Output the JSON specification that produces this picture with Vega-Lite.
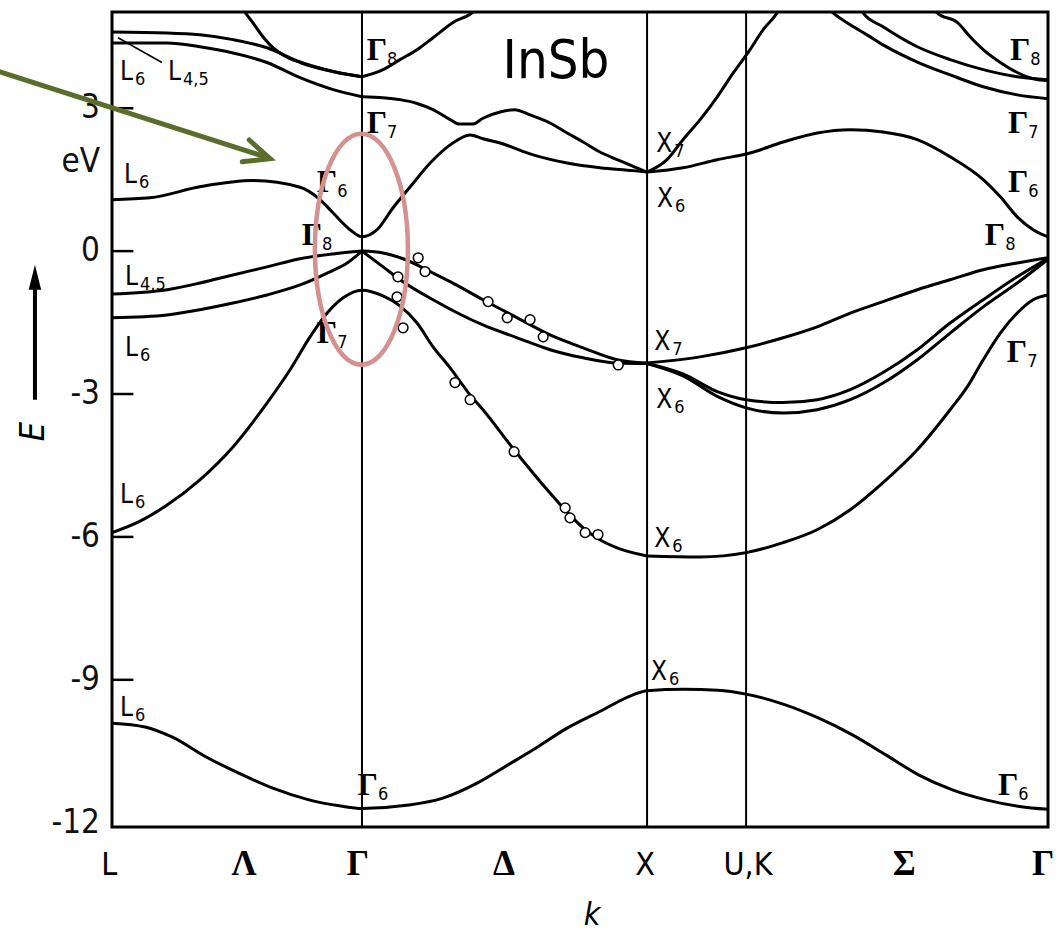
{
  "$schema": "https://vega.github.io/schema/vega-lite/v6.json",
  "width": 936,
  "height": 815,
  "autosize": {"type": "none"},
  "padding": {"left": 112, "top": 12, "right": 12, "bottom": 105},
  "background": "white",
  "config": {"view": {"stroke": "black", "strokeWidth": 3}},
  "datasets": {
    "symmetryLines": [{"k": 0.876, "point": "Γ"}, {"k": 1.875, "point": "X"}, {"k": 2.222, "point": "U,K"}],
    "energyTicks": [
      {"E": 3, "k": 0, "k2": 0.075}, {"E": 0, "k": 0, "k2": 0.075}, {"E": -3, "k": 0, "k2": 0.075},
      {"E": -6, "k": 0, "k2": 0.075}, {"E": -9, "k": 0, "k2": 0.075}
    ],
    "energyTickLabels": [
      {"E": 3, "k": -0.042, "label": "3"}, {"E": 0, "k": -0.042, "label": "0"}, {"E": -3, "k": -0.042, "label": "-3"},
      {"E": -6, "k": -0.042, "label": "-6"}, {"E": -9, "k": -0.042, "label": "-9"}, {"E": -12, "k": -0.042, "label": "-12"}
    ],
    "bands": [
      {"band": "c1", "k": 0, "E": 4.60}, {"band": "c1", "k": 0.193, "E": 4.58}, {"band": "c1", "k": 0.308, "E": 4.54}, {"band": "c1", "k": 0.424, "E": 4.44}, {"band": "c1", "k": 0.543, "E": 4.27}, {"band": "c1", "k": 0.659, "E": 3.97}, {"band": "c1", "k": 0.775, "E": 3.77}, {"band": "c1", "k": 0.876, "E": 3.66},
      {"band": "c2", "k": 0, "E": 4.37}, {"band": "c2", "k": 0.193, "E": 4.37}, {"band": "c2", "k": 0.308, "E": 4.29}, {"band": "c2", "k": 0.424, "E": 4.16}, {"band": "c2", "k": 0.543, "E": 3.96}, {"band": "c2", "k": 0.659, "E": 3.64}, {"band": "c2", "k": 0.775, "E": 3.39}, {"band": "c2", "k": 0.876, "E": 3.24},
      {"band": "c3", "k": 0.455, "E": 5.10}, {"band": "c3", "k": 0.494, "E": 4.79}, {"band": "c3", "k": 0.529, "E": 4.50}, {"band": "c3", "k": 0.564, "E": 4.27}, {"band": "c3", "k": 0.599, "E": 4.12}, {"band": "c3", "k": 0.659, "E": 3.96}, {"band": "c3", "k": 0.775, "E": 3.77}, {"band": "c3", "k": 0.876, "E": 3.66},
      {"band": "c4", "k": 0.876, "E": 3.66}, {"band": "c4", "k": 0.950, "E": 3.81}, {"band": "c4", "k": 1.009, "E": 4.02}, {"band": "c4", "k": 1.069, "E": 4.23}, {"band": "c4", "k": 1.125, "E": 4.48}, {"band": "c4", "k": 1.195, "E": 4.80}, {"band": "c4", "k": 1.265, "E": 5.02}, {"band": "c4", "k": 1.29, "E": 5.17},
      {"band": "c5", "k": 0.876, "E": 3.24}, {"band": "c5", "k": 0.950, "E": 3.22}, {"band": "c5", "k": 1.009, "E": 3.18}, {"band": "c5", "k": 1.069, "E": 3.10}, {"band": "c5", "k": 1.125, "E": 2.97}, {"band": "c5", "k": 1.185, "E": 2.76}, {"band": "c5", "k": 1.215, "E": 2.67}, {"band": "c5", "k": 1.265, "E": 2.67}, {"band": "c5", "k": 1.300, "E": 2.79}, {"band": "c5", "k": 1.360, "E": 2.92}, {"band": "c5", "k": 1.410, "E": 2.97}, {"band": "c5", "k": 1.465, "E": 2.86}, {"band": "c5", "k": 1.535, "E": 2.69}, {"band": "c5", "k": 1.595, "E": 2.48}, {"band": "c5", "k": 1.651, "E": 2.29}, {"band": "c5", "k": 1.710, "E": 2.08}, {"band": "c5", "k": 1.770, "E": 1.92}, {"band": "c5", "k": 1.826, "E": 1.78}, {"band": "c5", "k": 1.875, "E": 1.66},
      {"band": "c6", "k": 0, "E": 1.08}, {"band": "c6", "k": 0.133, "E": 1.12}, {"band": "c6", "k": 0.308, "E": 1.35}, {"band": "c6", "k": 0.494, "E": 1.48}, {"band": "c6", "k": 0.659, "E": 1.34}, {"band": "c6", "k": 0.729, "E": 1.08}, {"band": "c6", "k": 0.775, "E": 0.80}, {"band": "c6", "k": 0.834, "E": 0.45}, {"band": "c6", "k": 0.876, "E": 0.30}, {"band": "c6", "k": 0.929, "E": 0.45}, {"band": "c6", "k": 0.985, "E": 0.91}, {"band": "c6", "k": 1.045, "E": 1.35}, {"band": "c6", "k": 1.115, "E": 1.85}, {"band": "c6", "k": 1.185, "E": 2.23}, {"band": "c6", "k": 1.255, "E": 2.44}, {"band": "c6", "k": 1.300, "E": 2.36}, {"band": "c6", "k": 1.360, "E": 2.27}, {"band": "c6", "k": 1.476, "E": 2.02}, {"band": "c6", "k": 1.595, "E": 1.85}, {"band": "c6", "k": 1.710, "E": 1.75}, {"band": "c6", "k": 1.826, "E": 1.69}, {"band": "c6", "k": 1.875, "E": 1.66},
      {"band": "c7", "k": 1.875, "E": 1.66}, {"band": "c7", "k": 1.945, "E": 1.92}, {"band": "c7", "k": 2.001, "E": 2.34}, {"band": "c7", "k": 2.061, "E": 2.76}, {"band": "c7", "k": 2.121, "E": 3.24}, {"band": "c7", "k": 2.177, "E": 3.74}, {"band": "c7", "k": 2.236, "E": 4.23}, {"band": "c7", "k": 2.282, "E": 4.65}, {"band": "c7", "k": 2.331, "E": 5.00}, {"band": "c7", "k": 2.359, "E": 5.28},
      {"band": "c8", "k": 1.875, "E": 1.66}, {"band": "c8", "k": 2.001, "E": 1.75}, {"band": "c8", "k": 2.121, "E": 1.92}, {"band": "c8", "k": 2.236, "E": 2.06}, {"band": "c8", "k": 2.352, "E": 2.29}, {"band": "c8", "k": 2.471, "E": 2.48}, {"band": "c8", "k": 2.587, "E": 2.55}, {"band": "c8", "k": 2.702, "E": 2.50}, {"band": "c8", "k": 2.822, "E": 2.34}, {"band": "c8", "k": 2.937, "E": 1.98}, {"band": "c8", "k": 3.053, "E": 1.50}, {"band": "c8", "k": 3.113, "E": 1.14}, {"band": "c8", "k": 3.172, "E": 0.72}, {"band": "c8", "k": 3.228, "E": 0.45}, {"band": "c8", "k": 3.28, "E": 0.30},
      {"band": "c9", "k": 2.48, "E": 5.28}, {"band": "c9", "k": 2.527, "E": 5.00}, {"band": "c9", "k": 2.587, "E": 4.75}, {"band": "c9", "k": 2.646, "E": 4.54}, {"band": "c9", "k": 2.702, "E": 4.33}, {"band": "c9", "k": 2.822, "E": 3.97}, {"band": "c9", "k": 2.937, "E": 3.70}, {"band": "c9", "k": 3.053, "E": 3.45}, {"band": "c9", "k": 3.172, "E": 3.28}, {"band": "c9", "k": 3.28, "E": 3.20},
      {"band": "c10", "k": 2.604, "E": 5.28}, {"band": "c10", "k": 2.632, "E": 5.00}, {"band": "c10", "k": 2.702, "E": 4.71}, {"band": "c10", "k": 2.822, "E": 4.29}, {"band": "c10", "k": 2.937, "E": 4.02}, {"band": "c10", "k": 3.053, "E": 3.81}, {"band": "c10", "k": 3.172, "E": 3.66}, {"band": "c10", "k": 3.28, "E": 3.60},
      {"band": "c11", "k": 2.867, "E": 5.28}, {"band": "c11", "k": 2.892, "E": 5.00}, {"band": "c11", "k": 2.962, "E": 4.80}, {"band": "c11", "k": 3.007, "E": 4.50}, {"band": "c11", "k": 3.053, "E": 4.23}, {"band": "c11", "k": 3.113, "E": 3.96}, {"band": "c11", "k": 3.172, "E": 3.75}, {"band": "c11", "k": 3.228, "E": 3.62}, {"band": "c11", "k": 3.28, "E": 3.58},
      {"band": "v1", "k": 0, "E": -0.90}, {"band": "v1", "k": 0.193, "E": -0.81}, {"band": "v1", "k": 0.308, "E": -0.67}, {"band": "v1", "k": 0.424, "E": -0.50}, {"band": "v1", "k": 0.543, "E": -0.33}, {"band": "v1", "k": 0.659, "E": -0.16}, {"band": "v1", "k": 0.775, "E": -0.06}, {"band": "v1", "k": 0.876, "E": 0},
      {"band": "v2", "k": 0, "E": -1.40}, {"band": "v2", "k": 0.193, "E": -1.34}, {"band": "v2", "k": 0.308, "E": -1.23}, {"band": "v2", "k": 0.424, "E": -1.09}, {"band": "v2", "k": 0.543, "E": -0.92}, {"band": "v2", "k": 0.659, "E": -0.71}, {"band": "v2", "k": 0.754, "E": -0.46}, {"band": "v2", "k": 0.824, "E": -0.25}, {"band": "v2", "k": 0.876, "E": 0},
      {"band": "so", "k": 0, "E": -5.91}, {"band": "so", "k": 0.095, "E": -5.68}, {"band": "so", "k": 0.193, "E": -5.33}, {"band": "so", "k": 0.308, "E": -4.80}, {"band": "so", "k": 0.424, "E": -4.11}, {"band": "so", "k": 0.543, "E": -3.19}, {"band": "so", "k": 0.624, "E": -2.49}, {"band": "so", "k": 0.694, "E": -1.80}, {"band": "so", "k": 0.754, "E": -1.30}, {"band": "so", "k": 0.810, "E": -0.98}, {"band": "so", "k": 0.876, "E": -0.82}, {"band": "so", "k": 0.950, "E": -0.94}, {"band": "so", "k": 1.009, "E": -1.15}, {"band": "so", "k": 1.069, "E": -1.51}, {"band": "so", "k": 1.125, "E": -2.01}, {"band": "so", "k": 1.185, "E": -2.45}, {"band": "so", "k": 1.255, "E": -3.02}, {"band": "so", "k": 1.300, "E": -3.33}, {"band": "so", "k": 1.409, "E": -4.17}, {"band": "so", "k": 1.535, "E": -5.08}, {"band": "so", "k": 1.595, "E": -5.48}, {"band": "so", "k": 1.651, "E": -5.81}, {"band": "so", "k": 1.710, "E": -6.06}, {"band": "so", "k": 1.770, "E": -6.23}, {"band": "so", "k": 1.875, "E": -6.40},
      {"band": "v4", "k": 0.876, "E": 0}, {"band": "v4", "k": 0.950, "E": -0.04}, {"band": "v4", "k": 1.020, "E": -0.16}, {"band": "v4", "k": 1.125, "E": -0.46}, {"band": "v4", "k": 1.185, "E": -0.64}, {"band": "v4", "k": 1.300, "E": -1.02}, {"band": "v4", "k": 1.420, "E": -1.40}, {"band": "v4", "k": 1.535, "E": -1.76}, {"band": "v4", "k": 1.651, "E": -2.03}, {"band": "v4", "k": 1.770, "E": -2.28}, {"band": "v4", "k": 1.875, "E": -2.35},
      {"band": "v5", "k": 0.876, "E": 0}, {"band": "v5", "k": 0.950, "E": -0.33}, {"band": "v5", "k": 1.009, "E": -0.60}, {"band": "v5", "k": 1.125, "E": -1.02}, {"band": "v5", "k": 1.300, "E": -1.55}, {"band": "v5", "k": 1.420, "E": -1.82}, {"band": "v5", "k": 1.535, "E": -2.07}, {"band": "v5", "k": 1.651, "E": -2.24}, {"band": "v5", "k": 1.770, "E": -2.35}, {"band": "v5", "k": 1.875, "E": -2.36},
      {"band": "v7", "k": 1.875, "E": -6.40}, {"band": "v7", "k": 2.061, "E": -6.42}, {"band": "v7", "k": 2.222, "E": -6.33}, {"band": "v7", "k": 2.352, "E": -6.12}, {"band": "v7", "k": 2.471, "E": -5.85}, {"band": "v7", "k": 2.587, "E": -5.43}, {"band": "v7", "k": 2.702, "E": -4.86}, {"band": "v7", "k": 2.822, "E": -4.17}, {"band": "v7", "k": 2.937, "E": -3.33}, {"band": "v7", "k": 2.997, "E": -2.85}, {"band": "v7", "k": 3.053, "E": -2.28}, {"band": "v7", "k": 3.113, "E": -1.72}, {"band": "v7", "k": 3.172, "E": -1.30}, {"band": "v7", "k": 3.228, "E": -1.02}, {"band": "v7", "k": 3.28, "E": -0.92},
      {"band": "v8", "k": 1.875, "E": -2.35}, {"band": "v8", "k": 2.061, "E": -2.22}, {"band": "v8", "k": 2.222, "E": -2.03}, {"band": "v8", "k": 2.352, "E": -1.82}, {"band": "v8", "k": 2.471, "E": -1.59}, {"band": "v8", "k": 2.587, "E": -1.30}, {"band": "v8", "k": 2.702, "E": -1.06}, {"band": "v8", "k": 2.822, "E": -0.81}, {"band": "v8", "k": 2.937, "E": -0.60}, {"band": "v8", "k": 3.053, "E": -0.39}, {"band": "v8", "k": 3.172, "E": -0.25}, {"band": "v8", "k": 3.28, "E": -0.14},
      {"band": "v9", "k": 1.875, "E": -2.36}, {"band": "v9", "k": 2.001, "E": -2.58}, {"band": "v9", "k": 2.121, "E": -2.95}, {"band": "v9", "k": 2.222, "E": -3.12}, {"band": "v9", "k": 2.352, "E": -3.18}, {"band": "v9", "k": 2.471, "E": -3.12}, {"band": "v9", "k": 2.587, "E": -2.91}, {"band": "v9", "k": 2.702, "E": -2.55}, {"band": "v9", "k": 2.822, "E": -2.07}, {"band": "v9", "k": 2.937, "E": -1.51}, {"band": "v9", "k": 3.053, "E": -1.02}, {"band": "v9", "k": 3.172, "E": -0.54}, {"band": "v9", "k": 3.28, "E": -0.15},
      {"band": "v10", "k": 1.875, "E": -2.36}, {"band": "v10", "k": 2.001, "E": -2.62}, {"band": "v10", "k": 2.121, "E": -3.05}, {"band": "v10", "k": 2.222, "E": -3.29}, {"band": "v10", "k": 2.352, "E": -3.40}, {"band": "v10", "k": 2.471, "E": -3.33}, {"band": "v10", "k": 2.587, "E": -3.12}, {"band": "v10", "k": 2.702, "E": -2.77}, {"band": "v10", "k": 2.822, "E": -2.28}, {"band": "v10", "k": 2.937, "E": -1.72}, {"band": "v10", "k": 3.053, "E": -1.17}, {"band": "v10", "k": 3.172, "E": -0.67}, {"band": "v10", "k": 3.28, "E": -0.17},
      {"band": "v11", "k": 0, "E": -9.91}, {"band": "v11", "k": 0.116, "E": -9.99}, {"band": "v11", "k": 0.21, "E": -10.20}, {"band": "v11", "k": 0.33, "E": -10.62}, {"band": "v11", "k": 0.448, "E": -10.97}, {"band": "v11", "k": 0.566, "E": -11.28}, {"band": "v11", "k": 0.684, "E": -11.51}, {"band": "v11", "k": 0.802, "E": -11.65}, {"band": "v11", "k": 0.876, "E": -11.70}, {"band": "v11", "k": 1.04, "E": -11.63}, {"band": "v11", "k": 1.157, "E": -11.49}, {"band": "v11", "k": 1.276, "E": -11.18}, {"band": "v11", "k": 1.395, "E": -10.76}, {"band": "v11", "k": 1.476, "E": -10.47}, {"band": "v11", "k": 1.593, "E": -10.02}, {"band": "v11", "k": 1.711, "E": -9.66}, {"band": "v11", "k": 1.828, "E": -9.31}, {"band": "v11", "k": 1.875, "E": -9.23}, {"band": "v11", "k": 2.005, "E": -9.20}, {"band": "v11", "k": 2.122, "E": -9.22}, {"band": "v11", "k": 2.222, "E": -9.30}, {"band": "v11", "k": 2.357, "E": -9.52}, {"band": "v11", "k": 2.475, "E": -9.80}, {"band": "v11", "k": 2.593, "E": -10.15}, {"band": "v11", "k": 2.710, "E": -10.57}, {"band": "v11", "k": 2.828, "E": -11.0}, {"band": "v11", "k": 2.945, "E": -11.31}, {"band": "v11", "k": 3.063, "E": -11.52}, {"band": "v11", "k": 3.181, "E": -11.66}, {"band": "v11", "k": 3.28, "E": -11.72}
    ],
    "measured": [
      {"k": 1.073, "E": -0.14}, {"k": 1.097, "E": -0.43}, {"k": 1.002, "E": -0.54}, {"k": 0.999, "E": -0.96}, {"k": 1.020, "E": -1.61},
      {"k": 1.318, "E": -1.06}, {"k": 1.385, "E": -1.40}, {"k": 1.465, "E": -1.44}, {"k": 1.511, "E": -1.80}, {"k": 1.774, "E": -2.39},
      {"k": 1.202, "E": -2.76}, {"k": 1.255, "E": -3.12}, {"k": 1.409, "E": -4.21}, {"k": 1.588, "E": -5.39}, {"k": 1.605, "E": -5.60},
      {"k": 1.658, "E": -5.91}, {"k": 1.703, "E": -5.95}
    ],
    "gammaLabels": [
      {"k": 0.964, "E": 4.02, "sub": "8"}, {"k": 0.964, "E": 2.48, "sub": "7"}, {"k": 0.789, "E": 1.25, "sub": "6"},
      {"k": 0.736, "E": 0.13, "sub": "8"}, {"k": 0.789, "E": -1.93, "sub": "7"}, {"k": 0.932, "E": -11.42, "sub": "6"},
      {"k": 3.218, "E": 4.02, "sub": "8"}, {"k": 3.211, "E": 2.48, "sub": "7"}, {"k": 3.211, "E": 1.25, "sub": "6"},
      {"k": 3.130, "E": 0.13, "sub": "8"}, {"k": 3.207, "E": -2.32, "sub": "7"}, {"k": 3.176, "E": -11.42, "sub": "6"}
    ],
    "latinLabels": [
      {"k": 0.074, "E": 3.60, "base": "L", "sub": "6"}, {"k": 0.242, "E": 3.60, "base": "L", "sub": "4,5"},
      {"k": 0.088, "E": 1.43, "base": "L", "sub": "6"}, {"k": 0.091, "E": -0.71, "base": "L", "sub": "4,5"},
      {"k": 0.091, "E": -2.20, "base": "L", "sub": "6"}, {"k": 0.074, "E": -5.28, "base": "L", "sub": "6"},
      {"k": 0.074, "E": -9.76, "base": "L", "sub": "6"},
      {"k": 1.963, "E": 2.08, "base": "X", "sub": "7"}, {"k": 1.966, "E": 0.93, "base": "X", "sub": "6"},
      {"k": 1.956, "E": -2.07, "base": "X", "sub": "7"}, {"k": 1.963, "E": -3.29, "base": "X", "sub": "6"},
      {"k": 1.956, "E": -6.21, "base": "X", "sub": "6"}, {"k": 1.945, "E": -9.00, "base": "X", "sub": "6"}
    ],
    "pointNames": [
      {"k": -0.01, "E": -13.09, "label": "L"}, {"k": 1.868, "E": -13.09, "label": "X"}, {"k": 2.229, "E": -13.09, "label": "U,K"}
    ],
    "lineNames": [
      {"k": 0.463, "E": -13.09, "label": "Λ"}, {"k": 0.862, "E": -13.09, "label": "Γ"}, {"k": 1.374, "E": -13.09, "label": "Δ"},
      {"k": 2.776, "E": -13.09, "label": "Σ"}, {"k": 3.263, "E": -13.09, "label": "Γ"}
    ]
  },
  "layer": [
    {
      "data": {"name": "symmetryLines"},
      "mark": {"type": "rule", "color": "black", "strokeWidth": 2},
      "encoding": {
        "x": {"field": "k", "type": "quantitative", "scale": {"domain": [0, 3.28], "nice": false, "zero": false}, "axis": null}
      }
    },
    {
      "data": {"name": "bands"},
      "mark": {"type": "line", "interpolate": "monotone", "color": "black", "strokeWidth": 3, "clip": true},
      "encoding": {
        "x": {"field": "k", "type": "quantitative", "scale": {"domain": [0, 3.28], "nice": false, "zero": false}, "axis": null},
        "y": {"field": "E", "type": "quantitative", "scale": {"domain": [-12.09, 5.02], "nice": false, "zero": false}, "axis": null},
        "detail": {"field": "band"}
      }
    },
    {
      "data": {"name": "energyTicks"},
      "mark": {"type": "rule", "color": "black", "strokeWidth": 2.5},
      "encoding": {
        "x": {"field": "k", "type": "quantitative", "axis": null},
        "y": {"field": "E", "type": "quantitative", "axis": null},
        "x2": {"field": "k2"},
        "y2": {"field": "E"}
      }
    },
    {
      "data": {"name": "energyTickLabels"},
      "mark": {"type": "text", "align": "right", "baseline": "middle", "font": "DejaVu Sans Condensed, DejaVu Sans", "fontSize": 33, "color": "#111"},
      "encoding": {
        "x": {"field": "k", "type": "quantitative", "axis": null},
        "y": {"field": "E", "type": "quantitative", "axis": null},
        "text": {"field": "label"}
      }
    },
    {
      "data": {"name": "measured"},
      "mark": {"type": "point", "shape": "circle", "filled": true, "fill": "white", "stroke": "black", "strokeWidth": 1.5, "size": 95, "opacity": 1},
      "encoding": {
        "x": {"field": "k", "type": "quantitative", "axis": null},
        "y": {"field": "E", "type": "quantitative", "axis": null}
      }
    },
    {
      "data": {"values": [{"k": 0.021, "E": 4.48, "k2": 0.175, "E2": 3.96}]},
      "mark": {"type": "rule", "color": "black", "strokeWidth": 1.5},
      "encoding": {
        "x": {"field": "k", "type": "quantitative", "axis": null},
        "y": {"field": "E", "type": "quantitative", "axis": null},
        "x2": {"field": "k2"}, "y2": {"field": "E2"}
      }
    },
    {
      "data": {"name": "gammaLabels"},
      "mark": {"type": "text", "align": "right", "baseline": "alphabetic", "font": "Liberation Serif, DejaVu Serif", "fontWeight": "bold", "fontSize": 32, "color": "black"},
      "encoding": {
        "x": {"field": "k", "type": "quantitative", "axis": null},
        "y": {"field": "E", "type": "quantitative", "axis": null},
        "text": {"value": "Γ"}
      }
    },
    {
      "data": {"name": "gammaLabels"},
      "mark": {"type": "text", "align": "left", "baseline": "alphabetic", "dy": 5, "font": "DejaVu Sans Condensed, DejaVu Sans", "fontSize": 18, "color": "black"},
      "encoding": {
        "x": {"field": "k", "type": "quantitative", "axis": null},
        "y": {"field": "E", "type": "quantitative", "axis": null},
        "text": {"field": "sub"}
      }
    },
    {
      "data": {"name": "latinLabels"},
      "mark": {"type": "text", "align": "right", "baseline": "alphabetic", "font": "DejaVu Sans Condensed, DejaVu Sans", "fontSize": 26, "color": "black"},
      "encoding": {
        "x": {"field": "k", "type": "quantitative", "axis": null},
        "y": {"field": "E", "type": "quantitative", "axis": null},
        "text": {"field": "base"}
      }
    },
    {
      "data": {"name": "latinLabels"},
      "mark": {"type": "text", "align": "left", "baseline": "alphabetic", "dx": 2, "dy": 5, "font": "DejaVu Sans Condensed, DejaVu Sans", "fontSize": 18, "color": "black"},
      "encoding": {
        "x": {"field": "k", "type": "quantitative", "axis": null},
        "y": {"field": "E", "type": "quantitative", "axis": null},
        "text": {"field": "sub"}
      }
    },
    {
      "data": {"values": [{"k": 1.556, "E": 3.64, "text": "InSb"}]},
      "mark": {"type": "text", "align": "center", "baseline": "alphabetic", "font": "DejaVu Sans Condensed, DejaVu Sans", "fontSize": 54, "color": "black"},
      "encoding": {
        "x": {"field": "k", "type": "quantitative", "axis": null},
        "y": {"field": "E", "type": "quantitative", "axis": null},
        "text": {"field": "text"}
      }
    },
    {
      "data": {"name": "pointNames"},
      "mark": {"type": "text", "align": "center", "baseline": "alphabetic", "font": "DejaVu Sans Condensed, DejaVu Sans", "fontSize": 32, "color": "black"},
      "encoding": {
        "x": {"field": "k", "type": "quantitative", "axis": null},
        "y": {"field": "E", "type": "quantitative", "axis": null},
        "text": {"field": "label"}
      }
    },
    {
      "data": {"name": "lineNames"},
      "mark": {"type": "text", "align": "center", "baseline": "alphabetic", "font": "Liberation Serif, DejaVu Serif", "fontWeight": "bold", "fontSize": 35, "color": "black"},
      "encoding": {
        "x": {"field": "k", "type": "quantitative", "axis": null},
        "y": {"field": "E", "type": "quantitative", "axis": null},
        "text": {"field": "label"}
      }
    },
    {
      "data": {"values": [{"k": -0.042, "E": 1.66, "text": "eV"}]},
      "mark": {"type": "text", "align": "right", "baseline": "alphabetic", "font": "DejaVu Sans Condensed, DejaVu Sans", "fontSize": 33, "color": "#111"},
      "encoding": {
        "x": {"field": "k", "type": "quantitative", "axis": null},
        "y": {"field": "E", "type": "quantitative", "axis": null},
        "text": {"field": "text"}
      }
    },
    {
      "data": {"values": [{"k": 1.682, "E": -14.15, "text": "k"}]},
      "mark": {"type": "text", "align": "center", "baseline": "alphabetic", "font": "DejaVu Sans Condensed, DejaVu Sans", "fontStyle": "italic", "fontSize": 32, "color": "black"},
      "encoding": {
        "x": {"field": "k", "type": "quantitative", "axis": null},
        "y": {"field": "E", "type": "quantitative", "axis": null},
        "text": {"field": "text"}
      }
    },
    {
      "data": {"values": [{"k": -0.273, "E": -3.79, "text": "E"}]},
      "mark": {"type": "text", "align": "center", "baseline": "middle", "angle": 270, "font": "DejaVu Sans Condensed, DejaVu Sans", "fontStyle": "italic", "fontSize": 34, "color": "black"},
      "encoding": {
        "x": {"field": "k", "type": "quantitative", "axis": null},
        "y": {"field": "E", "type": "quantitative", "axis": null},
        "text": {"field": "text"}
      }
    },
    {
      "data": {"values": [{"k": -0.27, "E": -3.12, "k2": -0.27, "E2": -0.71}]},
      "mark": {"type": "rule", "color": "black", "strokeWidth": 4},
      "encoding": {
        "x": {"field": "k", "type": "quantitative", "axis": null},
        "y": {"field": "E", "type": "quantitative", "axis": null},
        "x2": {"field": "k2"}, "y2": {"field": "E2"}
      }
    },
    {
      "data": {"values": [{"k": -0.27, "E": -0.55}]},
      "mark": {"type": "point", "shape": "M 0 -1 L 0.5 1 L -0.5 1 Z", "size": 625, "filled": true, "color": "black", "opacity": 1},
      "encoding": {
        "x": {"field": "k", "type": "quantitative", "axis": null},
        "y": {"field": "E", "type": "quantitative", "axis": null}
      }
    },
    {
      "data": {"values": [{"k": 0.874, "E": 0.04}]},
      "mark": {"type": "point", "shape": "M -0.4026 0 A 0.4026 1 0 1 1 0.4026 0 A 0.4026 1 0 1 1 -0.4026 0 Z", "size": 53361, "filled": false, "stroke": "#d4918f", "strokeWidth": 4.5, "opacity": 1},
      "encoding": {
        "x": {"field": "k", "type": "quantitative", "axis": null},
        "y": {"field": "E", "type": "quantitative", "axis": null}
      }
    },
    {
      "data": {"values": [{"k": -0.40, "E": 3.78, "k2": 0.548, "E2": 1.96}]},
      "mark": {"type": "rule", "color": "#5a6e2c", "strokeWidth": 5},
      "encoding": {
        "x": {"field": "k", "type": "quantitative", "axis": null},
        "y": {"field": "E", "type": "quantitative", "axis": null},
        "x2": {"field": "k2"}, "y2": {"field": "E2"}
      }
    },
    {
      "data": {"values": [{"k": 0.554, "E": 1.94}]},
      "mark": {"type": "point", "shape": "M -0.914 -0.407 L 0 0 L -0.914 0.407", "size": 3136, "filled": false, "stroke": "#5a6e2c", "strokeWidth": 5, "strokeJoin": "miter", "strokeCap": "round", "angle": 17.9, "opacity": 1},
      "encoding": {
        "x": {"field": "k", "type": "quantitative", "axis": null},
        "y": {"field": "E", "type": "quantitative", "axis": null}
      }
    }
  ]
}
